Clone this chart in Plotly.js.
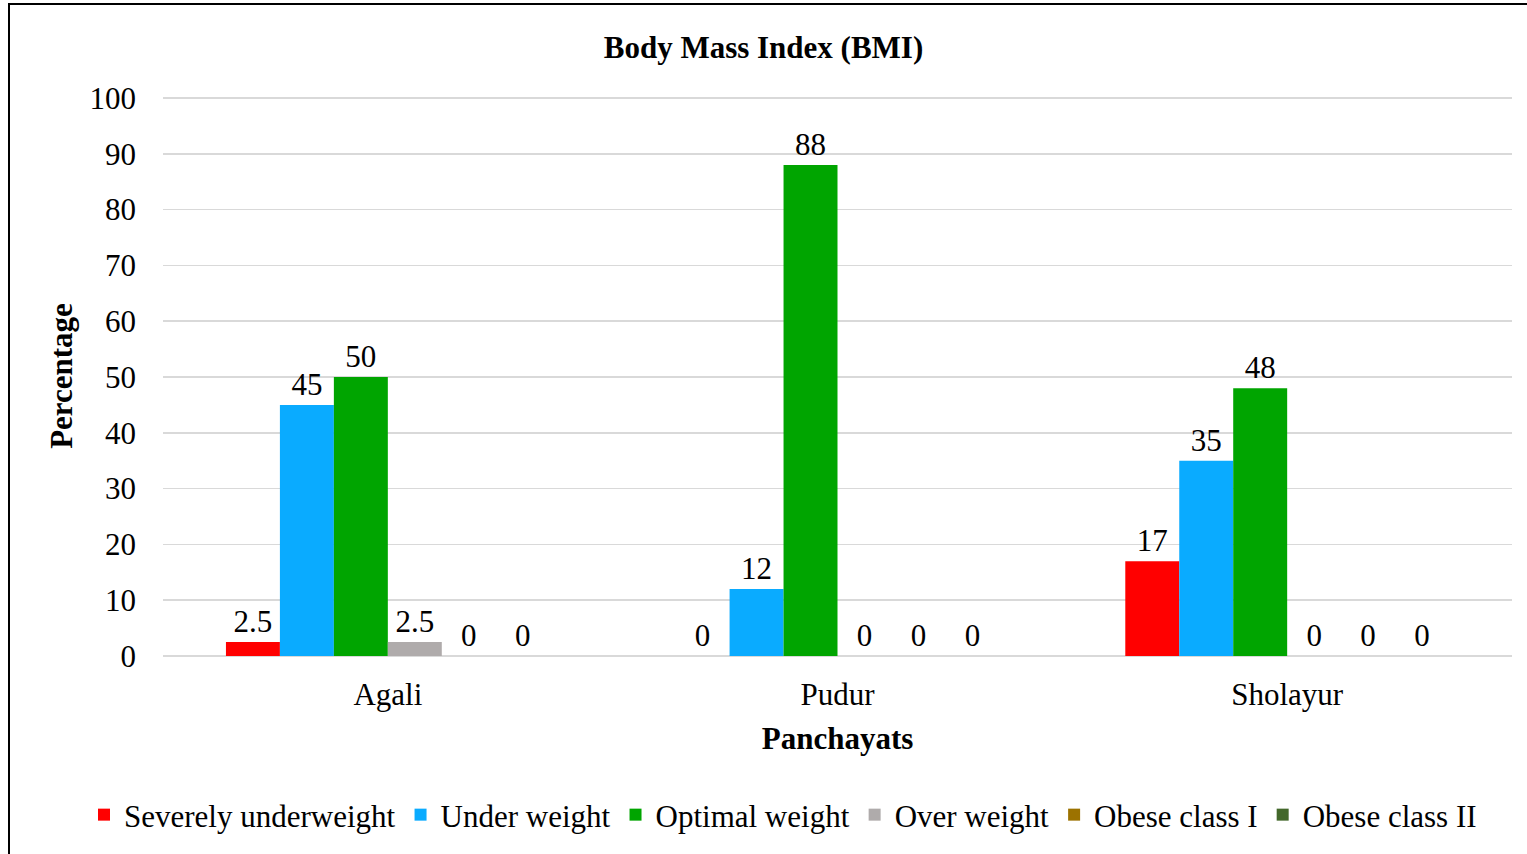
<!DOCTYPE html>
<html>
<head>
<meta charset="utf-8">
<script src="https://cdn.plot.ly/plotly-3.0.1.min.js"></script>
<style>html,body{margin:0;padding:0;background:#fff;}#chart{width:1527px;height:854px;}</style>
</head>
<body>
<div id="chart"></div>
<script>
const categories = ["Agali", "Pudur", "Sholayur"];
const seriesNames = ["Severely underweight", "Under weight", "Optimal weight", "Over weight", "Obese class I", "Obese class II"];
const severelyUnderweight = [2.5, 0, 17];
const underWeight = [45, 12, 35];
const optimalWeight = [50, 88, 48];
const overWeight = [2.5, 0, 0];
const obeseClassI = [0, 0, 0];
const obeseClassII = [0, 0, 0];
const yTicks = [0, 10, 20, 30, 40, 50, 60, 70, 80, 90, 100];

const seriesValues = [severelyUnderweight, underWeight, optimalWeight, overWeight, obeseClassI, obeseClassII];
const colors = ["#FF0000", "#0AABFF", "#00A500", "#AFABAB", "#9C7200", "#43682B"];
const FONT = "Liberation Serif, Times New Roman, serif";

const traces = seriesNames.map((name, i) => ({
  type: "bar",
  name: name,
  x: categories,
  y: seriesValues[i],
  marker: {color: colors[i]},
  text: seriesValues[i].map(v => String(v)),
  textposition: "outside",
  textfont: {family: FONT, size: 31, color: "#000"},
  cliponaxis: false,
  hoverinfo: "x+y+name"
}));

const layout = {
  width: 1527,
  height: 854,
  paper_bgcolor: "#fff",
  plot_bgcolor: "#fff",
  font: {family: FONT, size: 31, color: "#000"},
  margin: {l: 163, r: 15, t: 96, b: 196},
  barmode: "group",
  bargap: 0.28,
  bargroupgap: 0,
  title: {
    text: "<b>Body Mass Index (BMI)</b>",
    font: {family: FONT, size: 31, color: "#000"},
    x: 0.5, xref: "container", xanchor: "center",
    y: 1 - 47/854, yref: "container", yanchor: "middle"
  },
  xaxis: {
    type: "category",
    showgrid: false,
    showline: false,
    ticks: "",
    tickfont: {family: FONT, size: 31, color: "#000"},
    ticklabelstandoff: 17,
    title: {text: "<b>Panchayats</b>", font: {family: FONT, size: 31, color: "#000"}, standoff: 16},
    automargin: false
  },
  yaxis: {
    range: [0, 100.35],
    tickvals: yTicks,
    ticktext: yTicks.map(String),
    showgrid: true,
    gridcolor: "#D9D9D9",
    gridwidth: 1.5,
    zeroline: true,
    zerolinecolor: "#D9D9D9",
    zerolinewidth: 1.5,
    showline: false,
    ticks: "",
    ticklabelstandoff: 26,
    tickfont: {family: FONT, size: 31, color: "#000"},
    title: {text: "<b>Percentage</b>", font: {family: FONT, size: 31, color: "#000"}, standoff: 7},
    automargin: false
  },
  showlegend: true,
  legend: {
    orientation: "h",
    xref: "paper",
    yref: "paper",
    x: (84 - 163) / 1349,
    xanchor: "left",
    y: -(817 - 658) / 560,
    yanchor: "middle",
    font: {family: FONT, size: 31, color: "#000"},
    itemwidth: 30,
    traceorder: "normal"
  },
  shapes: [{
    type: "rect",
    xref: "paper", yref: "paper",
    x0: (9 - 163) / 1349, x1: 1.05,
    y0: -0.5, y1: (658 - 6) / 560,
    line: {color: "#000", width: 2},
    fillcolor: "rgba(0,0,0,0)",
    layer: "below"
  }]
};

Plotly.newPlot("chart", traces, layout, {displayModeBar: false, staticPlot: true});
</script>
</body>
</html>
